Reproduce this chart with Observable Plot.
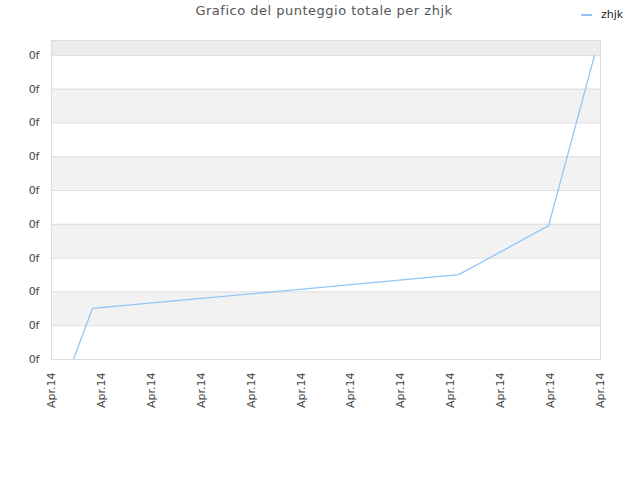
<!DOCTYPE html>
<html><head><meta charset="utf-8">
<script src="https://cdn.jsdelivr.net/npm/d3@7"></script>
<script src="https://cdn.jsdelivr.net/npm/@observablehq/plot@0.6"></script>
<style>
body{margin:0;background:#fff;font-family:"DejaVu Sans",sans-serif;}
#wrap{position:relative;width:640px;height:480px;}
#title{position:absolute;top:3px;left:4px;width:640px;text-align:center;font-size:13px;letter-spacing:0.5px;color:#555;}
#legend{position:absolute;top:8px;left:581px;font-size:11px;color:#222;display:flex;align-items:center;}
#legend .sw{display:inline-block;width:11px;height:2px;background:#92c5f7;margin-right:9px;}
#chart{position:absolute;top:0;left:0;}
</style></head><body>
<div id="wrap">
<div id="chart"></div>
<div id="title">Grafico del punteggio totale per zhjk</div>
<div id="legend"><span class="sw"></span><span id="lname"></span></div>
</div>
<script>
const seriesName = "zhjk";
const xPos = [0.44, 0.82, 8.16, 9.96, 10.88];
const scores = [0, 1.51, 2.51, 3.96, 9.0];
const xTicks = [0, 1, 2, 3, 4, 5, 6, 7, 8, 9, 10, 11];
const xTickLabels = ["Apr.14","Apr.14","Apr.14","Apr.14","Apr.14","Apr.14","Apr.14","Apr.14","Apr.14","Apr.14","Apr.14","Apr.14"];
const yTicks = [0, 1, 2, 3, 4, 5, 6, 7, 8, 9];
const yTickLabels = ["0f","0f","0f","0f","0f","0f","0f","0f","0f","0f"];
const yTop = 9.44;

document.getElementById("lname").textContent = seriesName;
const data = xPos.map((x, i) => ({x, y: scores[i]}));
const grayBands = yTicks.slice(0, -1).filter(t => t % 2 === 1).map(t => ({y1: t, y2: t + 1}));
const topBand = [{y1: yTicks[yTicks.length - 1], y2: yTop}];

const chart = Plot.plot({
  width: 640, height: 480,
  marginLeft: 51, marginRight: 40, marginTop: 40, marginBottom: 121,
  style: {fontFamily: "DejaVu Sans, sans-serif", fontSize: "11px", color: "#444", background: "#fff"},
  x: {domain: [0, 11], ticks: xTicks, tickFormat: i => xTickLabels[i], tickRotate: -90, tickSize: 0, tickPadding: 13, label: null},
  y: {domain: [0, yTop], ticks: yTicks, tickFormat: (d, i) => yTickLabels[i], tickSize: 0, tickPadding: 12, label: null},
  marks: [
    Plot.rect(grayBands, {x1: () => 0, x2: () => 11, y1: "y1", y2: "y2", fill: "#f2f2f2"}),
    Plot.rect(topBand, {x1: () => 0, x2: () => 11, y1: "y1", y2: "y2", fill: "#ececec"}),
    Plot.ruleY(yTicks, {stroke: "#dddddd"}),
    Plot.frame({stroke: "#dddddd"}),
    Plot.line(data, {x: "x", y: "y", stroke: "#92c5f7", strokeWidth: 1.3, clip: true})
  ]
});
document.getElementById("chart").appendChild(chart);
</script>
</body></html>
